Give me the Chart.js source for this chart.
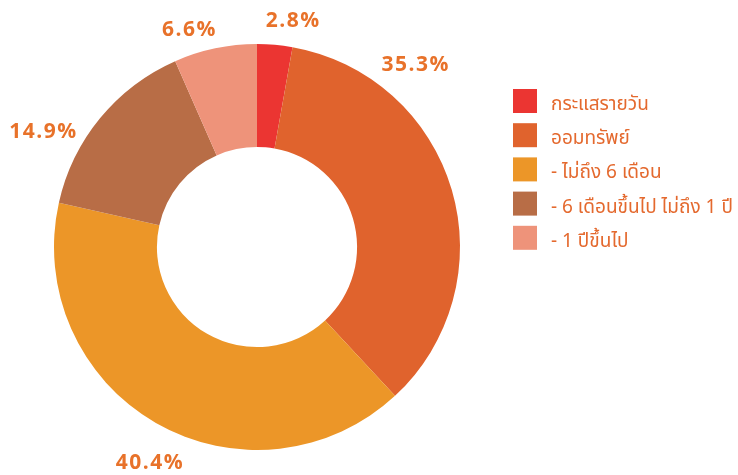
<!DOCTYPE html>
<html>
<head>
<meta charset="utf-8">
<script src="https://cdn.jsdelivr.net/npm/chart.js@4/dist/chart.umd.min.js"></script>
<style>
html,body{margin:0;padding:0;background:#fff;}
#wrap{width:738px;height:475px;position:relative;}
</style>
</head>
<body>
<div id="wrap"><canvas id="c" width="738" height="475"></canvas></div>
<script>
const categories = ["กระแสรายวัน", "ออมทรัพย์", "- ไม่ถึง 6 เดือน", "- 6 เดือนขึ้นไป ไม่ถึง 1 ปี", "- 1 ปีขึ้นไป"];
const shares = [2.8, 35.3, 40.4, 14.9, 6.6];
const sliceColors = ["#EB3532", "#E0632D", "#EC9628", "#B86D46", "#EE937A"];

// label nudges (px) from the default radial position
const labelNudge = [[16, 4], [-63, -117], [8, 16], [-35, 32], [-20, 9]];

const valueLabels = {
  id: 'valueLabels',
  afterDatasetsDraw(chart) {
    const ctx = chart.ctx;
    const meta = chart.getDatasetMeta(0);
    ctx.save();
    ctx.font = 'bold 21px "Open Sans", sans-serif';
    ctx.fillStyle = '#E8722A';
    ctx.textAlign = 'center';
    ctx.textBaseline = 'middle';
    if ('letterSpacing' in ctx) ctx.letterSpacing = '1.5px';
    meta.data.forEach((arc, i) => {
      const p = arc.getProps(['x', 'y', 'startAngle', 'endAngle', 'outerRadius'], true);
      const mid = (p.startAngle + p.endAngle) / 2;
      const r = p.outerRadius + 28;
      const x = p.x + Math.cos(mid) * r + labelNudge[i][0];
      const y = p.y + Math.sin(mid) * r + labelNudge[i][1];
      ctx.fillText(shares[i].toFixed(1) + '%', x, y);
    });
    ctx.restore();
  }
};

const sideLegend = {
  id: 'sideLegend',
  afterDraw(chart) {
    const ctx = chart.ctx;
    const left = 513, top = 89, box = 24, step = 34.2;
    ctx.save();
    ctx.font = '19px "Noto Sans Thai", "Noto Sans", sans-serif';
    ctx.textAlign = 'left';
    ctx.textBaseline = 'alphabetic';
    chart.data.labels.forEach((lab, i) => {
      const y = top + i * step;
      ctx.fillStyle = chart.data.datasets[0].backgroundColor[i];
      ctx.fillRect(left, y, box, box);
      ctx.fillStyle = '#E4692E';
      ctx.fillText(lab, left + 38, y + 21);
    });
    ctx.restore();
  }
};

new Chart(document.getElementById('c'), {
  type: 'doughnut',
  data: {
    labels: categories,
    datasets: [{
      data: shares,
      backgroundColor: sliceColors,
      borderWidth: 0,
      hoverOffset: 0
    }]
  },
  options: {
    responsive: false,
    animation: false,
    cutout: '49.3%',
    layout: { padding: { top: 44, bottom: 25, left: 0, right: 224 } },
    plugins: {
      legend: { display: false },
      tooltip: { enabled: false }
    }
  },
  plugins: [valueLabels, sideLegend]
});
</script>
</body>
</html>
